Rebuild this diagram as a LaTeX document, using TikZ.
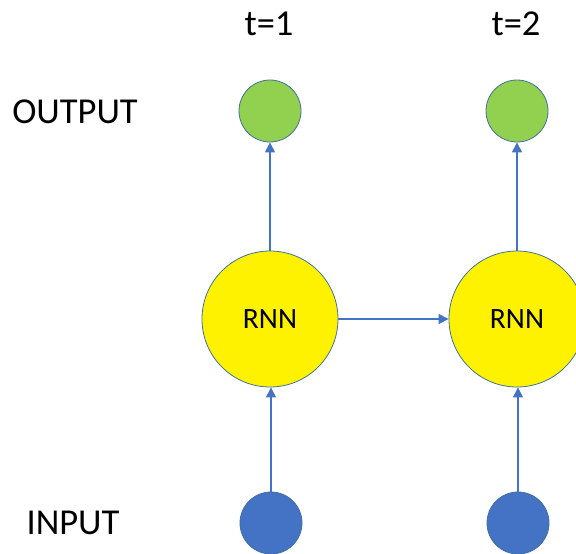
\documentclass[tikz,border=0pt]{standalone}
\usepackage{fontspec}
\setmainfont{Carlito}
\usetikzlibrary{arrows.meta}
\definecolor{outgreen}{HTML}{92D050}
\definecolor{inblue}{HTML}{4472C4}
\definecolor{rimblue}{HTML}{41719C}
\tikzset{
  ball/.style={circle,draw=rimblue,line width=0.8pt,inner sep=0pt},
  outball/.style={ball,fill=outgreen,minimum size=62pt},
  inball/.style={ball,fill=inblue,minimum size=62pt},
  rnnball/.style={ball,fill=yellow,minimum size=136pt,font=\fontsize{29.5}{34}\selectfont},
  lbl/.style={font=\fontsize{36.5}{42}\selectfont},
  arr/.style={draw=inblue,line width=1.1pt,-{Triangle[length=10pt,width=10pt]}}
}
\begin{document}
\begin{tikzpicture}[x=1pt,y=-1pt]
\useasboundingbox (0,0) rectangle (576,554);
%\draw[step=50,gray,very thin] (0,0) grid (576,554);
\node[lbl] (t1) at (269,24) {t=1};
\node[lbl] (t2) at (516,24) {t=2};
\node[lbl] (outlbl) at (75,112) {OUTPUT};
\node[lbl] (inlbl) at (73,523) {INPUT};
\node[outball] (y1) at (270,111) {};
\node[outball] (y2) at (517,111) {};
\node[rnnball] (h1) at (270,319) {RNN};
\node[rnnball] (h2) at (517,319) {RNN};
\node[inball] (x1) at (271,523) {};
\node[inball] (x2) at (518,523) {};
\draw[arr] (h1) -- (y1);
\draw[arr] (h2) -- (y2);
\draw[arr] (x1) -- (h1.south -| x1);
\draw[arr] (x2) -- (h2.south -| x2);
\draw[arr] (h1) -- (h2);
\end{tikzpicture}
\end{document}
